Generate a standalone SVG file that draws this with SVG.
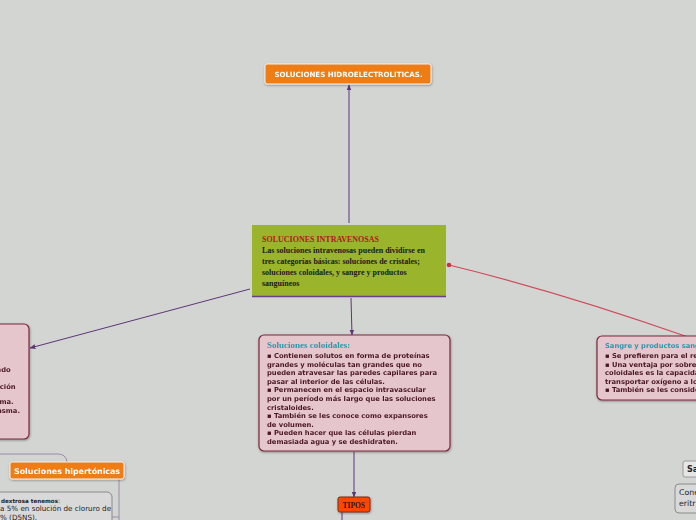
<svg xmlns="http://www.w3.org/2000/svg" width="696" height="520" viewBox="0 0 696 520">
<defs>
<marker id="ap" viewBox="0 0 10 10" refX="9" refY="5" markerWidth="6" markerHeight="6" orient="auto-start-reverse" markerUnits="userSpaceOnUse"><path d="M0,1 L10,5 L0,9 Z" fill="#5e3577"/></marker>
<filter id="sh" x="-10%" y="-10%" width="120%" height="130%"><feDropShadow dx="0.5" dy="1" stdDeviation="0.8" flood-color="#000" flood-opacity="0.35"/></filter>
</defs>
<style>
.bg{fill:#d3d5d2}
.con{fill:none;stroke:#5e3577;stroke-width:1}
.pink{fill:#e5c6cc;stroke:#7a2a3c;stroke-width:1.2}
.orange{fill:#ef7d14;stroke:#f6f2ee;stroke-width:1}
.body{font-family:"DejaVu Sans",Verdana,sans-serif;font-weight:bold;font-size:6.75px;fill:#4a1626}
.serif{font-family:"Liberation Serif","Times New Roman",serif;font-weight:bold}
.wt{font-family:"DejaVu Sans",Verdana,sans-serif;font-weight:bold;fill:#fff}
.teal{fill:#2a98a8}
.gray{fill:#d9d9d9;stroke:#8a8a8a;stroke-width:1}
.pl{font-family:"DejaVu Sans",Verdana,sans-serif;fill:#222}
</style>
<rect class="bg" x="0" y="0" width="696" height="520"/>

<g id="connectors">
<line class="con" x1="349" y1="223" x2="349" y2="85" marker-end="url(#ap)"/>
<line class="con" x1="351" y1="298" x2="352" y2="335" marker-end="url(#ap)"/>
<line class="con" x1="250" y1="289" x2="30" y2="348" marker-end="url(#ap)"/>
<line class="con" x1="354" y1="452" x2="354" y2="497" marker-end="url(#ap)"/>
<line class="con" x1="342" y1="512" x2="342" y2="520"/>
<path d="M449,265 Q560,292 688,337" fill="none" stroke="#d04a5a" stroke-width="1.2"/>
<circle cx="449" cy="265" r="2.3" fill="#d0303c"/>
<path d="M0,454 L58,454 Q66,454 67,462" fill="none" stroke="#9b8aab" stroke-width="1"/>
<path d="M119,479 L119,520" fill="none" stroke="#9b8aab" stroke-width="1"/>
<path d="M112,517 L119,517" fill="none" stroke="#9b8aab" stroke-width="1"/>
</g>

<g id="n-hidro" filter="url(#sh)">
<rect class="orange" x="265" y="64" width="166" height="20" rx="2"/>
<text class="wt" x="348.5" y="77" style="font-size:7.1px" text-anchor="middle">SOLUCIONES HIDROELECTROLITICAS.</text>
</g>

<g id="n-intravenosas">
<rect x="252" y="225" width="194" height="71" fill="#9ab52c"/>
<line x1="252" y1="296.5" x2="446" y2="296.5" stroke="#6b3d8a" stroke-width="1.5"/>
<text class="serif" font-size="8" fill="#b3161c" x="262" y="242">SOLUCIONES INTRAVENOSAS</text>
<text class="serif" font-size="8" fill="#1a1a1a">
<tspan x="262" y="253">Las soluciones intravenosas pueden dividirse en</tspan>
<tspan x="262" y="264">tres categorías básicas: soluciones de cristales;</tspan>
<tspan x="262" y="275">soluciones coloidales, y sangre y productos</tspan>
<tspan x="262" y="286">sanguíneos</tspan>
</text>
</g>

<g id="n-coloidales" filter="url(#sh)">
<rect class="pink" x="259" y="335" width="191" height="116" rx="5"/>
<text class="serif teal" font-size="9" x="267" y="348">Soluciones coloidales:</text>
<text class="body">
<tspan x="267" y="358">▪ Contienen solutos en forma de proteínas</tspan>
<tspan x="267" y="366.6">grandes y moléculas tan grandes que no</tspan>
<tspan x="267" y="375.2">pueden atravesar las paredes capilares para</tspan>
<tspan x="267" y="383.8">pasar al interior de las células.</tspan>
<tspan x="267" y="392.4">▪ Permanecen en el espacio intravascular</tspan>
<tspan x="267" y="401">por un período más largo que las soluciones</tspan>
<tspan x="267" y="409.6">cristaloides.</tspan>
<tspan x="267" y="418.2">▪ También se les conoce como expansores</tspan>
<tspan x="267" y="426.8">de volumen.</tspan>
<tspan x="267" y="435.4">▪ Pueden hacer que las células pierdan</tspan>
<tspan x="267" y="444">demasiada agua y se deshidraten.</tspan>
</text>
</g>

<g id="n-tipos" filter="url(#sh)">
<rect x="338" y="497" width="32" height="15" rx="2" fill="#ff4500" stroke="#7a2a1c" stroke-width="1"/>
<text class="serif" font-size="7.5" fill="#1a1a1a" x="354" y="507.5" text-anchor="middle" font-weight="normal">TIPOS</text>
</g>

<g id="n-sangre" filter="url(#sh)">
<rect class="pink" x="597" y="336" width="110" height="64" rx="5"/>
<text class="body teal" x="605" y="348">Sangre y productos sanguíneos:</text>
<text class="body">
<tspan x="605" y="358">▪ Se prefieren para el reemplazo</tspan>
<tspan x="605" y="366.6">▪ Una ventaja por sobre las</tspan>
<tspan x="605" y="375.2">coloidales es la capacidad de</tspan>
<tspan x="605" y="383.8">transportar oxígeno a los</tspan>
<tspan x="605" y="392.4">▪ También se les considera</tspan>
</text>
</g>

<g id="n-left" filter="url(#sh)">
<rect class="pink" x="-10" y="324" width="39" height="115" rx="5"/>
<text class="body" text-anchor="end">
<tspan x="13" y="372">ndo</tspan>
<tspan x="18" y="389">ación</tspan>
<tspan x="16" y="404">sma.</tspan>
<tspan x="20" y="413">asma.</tspan>
</text>
</g>

<g id="n-hipertonicas" filter="url(#sh)">
<rect class="orange" x="10" y="462" width="114" height="17" rx="2"/>
<text class="wt" x="14" y="474" style="font-size:7.9px">Soluciones hipertónicas</text>
</g>

<g id="n-dextrosa">
<rect class="gray" x="-10" y="492" width="122" height="40" rx="5"/>
<text class="pl" style="font-size:5.6px;font-weight:bold" x="1" y="503">dextrosa tenemos<tspan style="font-weight:normal;font-size:6.5px">:</tspan></text>
<text class="pl" style="font-size:7.2px"><tspan x="0" y="511">a 5% en solución de cloruro de</tspan><tspan x="0" y="520">% (D5NS).</tspan></text>
</g>

<g id="n-sa">
<rect x="683" y="461" width="20" height="16" rx="2" fill="#e6e6e6" stroke="#9a9a9a" stroke-width="1"/>
<text class="pl" style="font-size:8px;font-weight:bold" x="687" y="472">Sa</text>
</g>

<g id="n-cone">
<rect class="gray" x="675" y="484" width="30" height="29" rx="4"/>
<text class="pl" style="font-size:7.8px"><tspan x="679" y="495">Cone</tspan><tspan x="679" y="506">eritr</tspan></text>
</g>
</svg>
